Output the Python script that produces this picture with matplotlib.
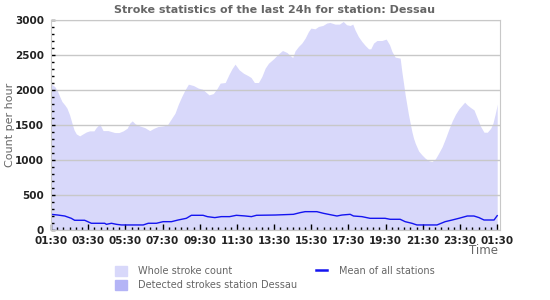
import numpy as np
import matplotlib.pyplot as plt
from matplotlib.patches import Patch
from matplotlib.lines import Line2D
from matplotlib.ticker import MultipleLocator

# hours since 01:30 and whole stroke count per hour
whole_h = [0, 0.2, 0.34, 0.47, 0.59, 0.74, 0.86, 1.0, 1.13, 1.24, 1.36, 1.54, 1.72, 1.9,
           2.08, 2.31, 2.43, 2.62, 2.8, 3.07, 3.25, 3.43, 3.66, 3.88, 4.1, 4.23, 4.37,
           4.53, 4.77, 5.04, 5.31, 5.54, 5.76, 6.03, 6.26, 6.4, 6.67, 6.85, 7.03, 7.21,
           7.39, 7.66, 7.93, 8.14, 8.33, 8.5, 8.73, 8.92, 9.1, 9.37, 9.58, 9.73, 9.9,
           10.12, 10.35, 10.62, 10.76, 10.94, 11.16, 11.34, 11.52, 11.7, 11.97, 12.24,
           12.45, 12.69, 12.86, 13.0, 13.13, 13.31, 13.49, 13.67, 13.85, 13.98, 14.2,
           14.39, 14.62, 14.83, 15.0, 15.28, 15.51, 15.72, 15.9, 16.09, 16.23, 16.35,
           16.53, 16.72, 16.9, 17.08, 17.2, 17.35, 17.53, 17.8, 18.03, 18.21, 18.34,
           18.51, 18.78, 18.87, 18.96, 19.05, 19.14, 19.23, 19.32, 19.41, 19.5, 19.59,
           19.77, 19.95, 20.13, 20.31, 20.49, 20.67, 20.85, 21.04, 21.22, 21.4, 21.58,
           21.76, 21.94, 22.12, 22.25, 22.39, 22.57, 22.75, 22.93, 23.11, 23.29, 23.47,
           23.65, 23.77, 23.88, 23.96, 24.0]
whole = [2088, 2050, 1990, 1906, 1835, 1787, 1740, 1645, 1525, 1430, 1373, 1344, 1373, 1401,
         1416, 1416, 1463, 1516, 1420, 1420, 1406, 1392, 1392, 1416, 1454, 1525, 1559,
         1516, 1487, 1463, 1420, 1454, 1478, 1487, 1502, 1559, 1669, 1798, 1906, 2002,
         2083, 2064, 2026, 2012, 1969, 1930, 1949, 2016, 2098, 2107, 2226, 2302, 2369,
         2288, 2240, 2202, 2178, 2107, 2107, 2192, 2312, 2383, 2445, 2517,
         2564, 2536, 2493, 2464, 2560, 2622, 2670, 2741, 2836, 2884, 2874,
         2908, 2922, 2956, 2965, 2941, 2941, 2979, 2932, 2922, 2941, 2860,
         2765, 2693, 2636, 2588, 2588, 2670, 2707, 2707, 2727, 2646, 2550,
         2470, 2455, 2264, 2098, 1930, 1787, 1645, 1525, 1406, 1311, 1240,
         1130, 1073, 1025, 991, 977, 1015, 1097, 1191, 1311, 1440, 1559,
         1655, 1731, 1787, 1826, 1787, 1749, 1716, 1597, 1478, 1397, 1397,
         1454, 1525, 1645, 1740, 1798]

# mean of all stations
mean_h = [0, 0.36, 0.74, 1.09, 1.27, 1.81, 2.17, 2.89, 2.98, 3.25, 3.52, 3.79, 4.96, 5.23,
          5.67, 6.03, 6.48, 6.84, 7.28, 7.55, 8.18, 8.41, 8.81, 9.16, 9.61, 9.97, 10.42,
          10.78, 11.05, 12.06, 13.04, 13.4, 13.67, 14.3, 14.66, 15.11, 15.38, 15.65,
          16.09, 16.27, 16.72, 17.16, 17.97, 18.24, 18.78, 19.05, 19.41, 19.68, 20.76,
          21.2, 21.58, 21.94, 22.39, 22.75, 23.02, 23.29, 23.83, 24.0]
mean = [224, 214, 200, 167, 139, 139, 96, 96, 81, 96, 81, 72, 72, 96,
        96, 119, 119, 143, 167, 210, 210, 191, 177, 191, 191, 210, 201,
        191, 210, 214, 224, 248, 262, 262, 238, 214, 200, 214,
        224, 200, 191, 167, 167, 153, 153, 119, 96, 72, 72,
        119, 143, 167, 200, 200, 177, 143, 143, 205]

# detected strokes of the station (none visible)
detected_h = [0, 24]
detected = [0, 0]

tick_labels = ["01:30", "03:30", "05:30", "07:30", "09:30", "11:30", "13:30",
               "15:30", "17:30", "19:30", "21:30", "23:30", "01:30"]

fig = plt.figure(figsize=(5.5, 3), dpi=100)
ax = fig.add_axes([51 / 550, 1 - 230 / 300, 449 / 550, 210 / 300])

c_whole = "#d8d8fa"
c_det = "#b4b4f6"
c_mean = "#1414f0"

ax.fill_between(whole_h, whole, 0, color=c_whole, lw=0, zorder=1)
ax.fill_between(detected_h, detected, 0, color=c_det, lw=0, zorder=2)
ax.plot(mean_h, mean, color=c_mean, lw=1.0, zorder=4)

ax.set_xlim(0, 24.15)
ax.set_ylim(0, 3000)
ax.set_xticks(np.arange(0, 25, 2))
ax.set_xticklabels(tick_labels)
ax.xaxis.set_minor_locator(MultipleLocator(1 / 3))
ax.yaxis.set_major_locator(MultipleLocator(500))
ax.yaxis.set_minor_locator(MultipleLocator(100))

ax.grid(axis="y", color="#c8c8c8", lw=1, zorder=3)
ax.set_axisbelow(False)
for s in ax.spines.values():
    s.set_color("#c8c8c8")
    s.set_zorder(5)

ax.tick_params(axis="x", which="major", direction="in", length=4, width=1,
               color="black", labelsize=7.5, pad=4)
ax.tick_params(axis="x", which="minor", direction="in", length=2, width=1, color="black")
ax.tick_params(axis="y", which="major", direction="in", length=3, width=1,
               color="black", labelsize=7.5, pad=5)
ax.tick_params(axis="y", which="minor", direction="in", length=2, width=1, color="black")
for lab in ax.get_xticklabels() + ax.get_yticklabels():
    lab.set_fontweight("bold")
    lab.set_color("#222222")

fig.text(0.5, 0.968, "Stroke statistics of the last 24h for station: Dessau",
         ha="center", va="center", fontsize=8, fontweight="bold", color="#666666")
fig.text(10 / 550, 1 - 125 / 300, "Count per hour", rotation=90, ha="center",
         va="center", fontsize=8, color="#666666")
fig.text(498 / 550, 1 - 251 / 300, "Time", ha="right", va="center",
         fontsize=8.5, color="#666666")

handles = [Patch(color=c_whole), Patch(color=c_det),
           Line2D([], [], color=c_mean, lw=1.8)]
labels = ["Whole stroke count", "Detected strokes station Dessau", "Mean of all stations"]
fig.legend(handles, labels, loc="center left", bbox_to_anchor=(110 / 550, 1 - 278 / 300),
           ncol=2, frameon=False, fontsize=7, labelcolor="#666666",
           handlelength=1.2, handleheight=1.2, handletextpad=1.2,
           columnspacing=1.9, labelspacing=0.35, borderpad=0)

fig.savefig("out.png", dpi=100)
